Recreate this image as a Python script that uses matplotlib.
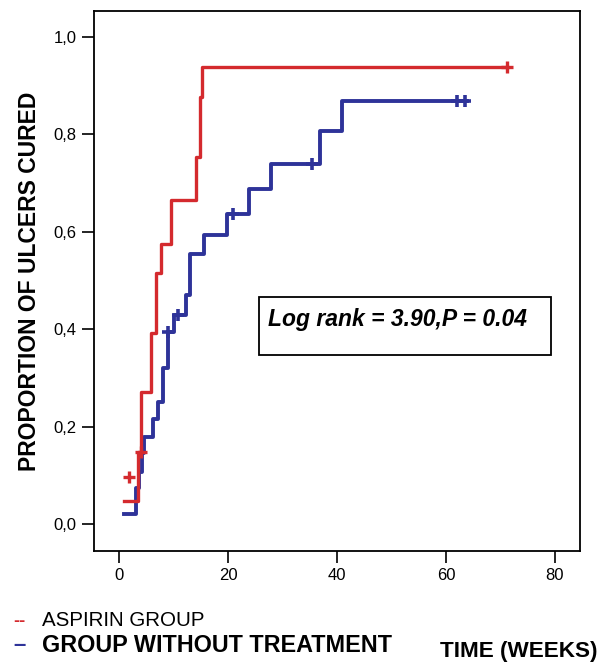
import matplotlib
matplotlib.use('Agg')
import matplotlib.pyplot as plt
from matplotlib.patches import Rectangle
import numpy as np

plt.rcParams['font.family'] = ['Liberation Sans', 'DejaVu Sans']

# Kaplan-Meier style curves (weeks, proportion cured)
aspirin_t = [0.9, 3.4, 4.1, 5.9, 6.7, 7.7, 9.5, 14.1, 14.9, 15.2, 71.2]
aspirin_s = [0.048, 0.148, 0.271, 0.392, 0.515, 0.575, 0.665, 0.754, 0.877, 0.939, 0.939]
aspirin_cens_t = [1.8, 4.0, 71.2]
aspirin_cens_s = [0.097, 0.148, 0.939]

control_t = [0.9, 3.1, 3.7, 4.2, 4.6, 6.3, 7.2, 8.1, 8.9, 10.0, 12.2, 13.0,
             15.6, 19.9, 23.9, 27.8, 36.9, 40.9, 63.8]
control_s = [0.021, 0.074, 0.107, 0.146, 0.179, 0.215, 0.251, 0.32, 0.395, 0.43,
             0.47, 0.554, 0.594, 0.636, 0.687, 0.739, 0.806, 0.869, 0.869]
control_cens_t = [8.9, 10.9, 20.9, 35.5, 62.0, 63.5]

x_ticks = [0, 20, 40, 60, 80]
y_ticks = [0.0, 0.2, 0.4, 0.6, 0.8, 1.0]
y_ticklabels = ['0,0', '0,2', '0,4', '0,6', '0,8', '1,0']

red = '#d42a2e'
blue = '#2e3399'

fig = plt.figure(figsize=(6.02, 6.66), dpi=100)
ax = fig.add_axes([94/602, 1 - 551/666, 486/602, 540/666])

ax.step(aspirin_t, aspirin_s, where='post', color=red, lw=2.4, zorder=3)
ax.step(control_t, control_s, where='post', color=blue, lw=2.8, zorder=2)

idx = np.searchsorted(control_t, control_cens_t, side='right') - 1
control_cens_s = np.array(control_s)[idx]
ax.plot(aspirin_cens_t, aspirin_cens_s, ls='none', marker='+', ms=8, mew=2.4, color=red, zorder=4)
ax.plot(control_cens_t, control_cens_s, ls='none', marker='+', ms=8, mew=2.6, color=blue, zorder=4)

ax.set_xlim(-4.6, 84.6)
ax.set_ylim(-0.055, 1.053)
ax.set_xticks(x_ticks)
ax.set_yticks(y_ticks)
ax.set_yticklabels(y_ticklabels)
ax.tick_params(direction='out', length=8.5, width=1.2, labelsize=12, pad=4)
for s in ax.spines.values():
    s.set_linewidth(1.3)

ax.set_ylabel('PROPORTION OF ULCERS CURED', fontsize=16.5, fontweight='bold', labelpad=9)

# log rank box
ax.add_patch(Rectangle((0.3395, 0.363), 0.6005, 0.107, transform=ax.transAxes,
                       fill=False, lw=1.3, ec='black', zorder=5))
ax.text(0.359, 0.429, 'Log rank = 3.90,P = 0.04', transform=ax.transAxes,
        fontsize=16.5, fontweight='bold', fontstyle='italic', va='center', ha='left')

# legend and x label below the axes
fig.text(13/602, 1 - 621/666, '--', color=red, fontsize=13, fontweight='bold', va='center')
fig.text(42/602, 1 - 620/666, 'ASPIRIN GROUP', fontsize=14.8, va='center')
fig.text(13/602, 1 - 646/666, '\u2013', color=blue, fontsize=16, fontweight='bold', va='center')
fig.text(42/602, 1 - 646/666, 'GROUP WITHOUT TREATMENT', fontsize=16.8, fontweight='bold', va='center')
fig.text(598/602, 1 - 652/666, 'TIME (WEEKS)', fontsize=16.2, fontweight='bold', va='center', ha='right')

fig.savefig('out.png', dpi=100)
